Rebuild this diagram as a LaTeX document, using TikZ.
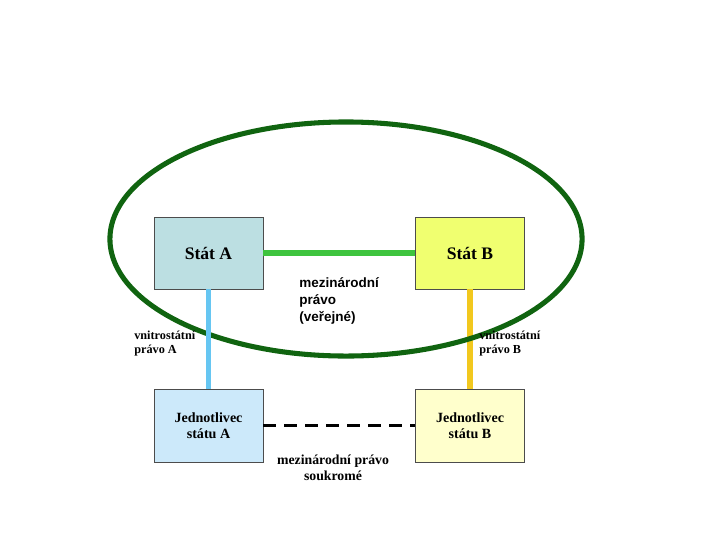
\documentclass[tikz,border=0pt]{standalone}
\usepackage{fontspec}
\usetikzlibrary{shapes.geometric}
\setmainfont{Liberation Serif}
\setsansfont{Liberation Sans}
\definecolor{ovalgreen}{RGB}{16,100,16}
\definecolor{linkgreen}{RGB}{62,196,62}
\definecolor{linkblue}{RGB}{102,198,242}
\definecolor{linkyellow}{RGB}{242,200,30}
\definecolor{stateA}{RGB}{188,223,226}
\definecolor{stateB}{RGB}{240,255,112}
\definecolor{personA}{RGB}{204,233,250}
\definecolor{personB}{RGB}{255,255,204}
\begin{document}
\begin{tikzpicture}[x=0.025cm, y=-0.025cm]
    \tikzset{state/.style={rectangle, draw=black!70, line width=0.5pt,
        minimum width=2.725cm, minimum height=1.8cm, font=\bfseries\fontsize{12.5}{14}\selectfont}}
    \tikzset{person/.style={rectangle, draw=black!70, line width=0.5pt,
        minimum width=2.725cm, minimum height=1.825cm, align=center,
        font=\bfseries\fontsize{10}{11.5}\selectfont}}
    \tikzset{label/.style={inner sep=0pt, align=left, anchor=north west,
        font=\bfseries\fontsize{8.7}{10}\selectfont}}
    \tikzset{link/.style={line width=4.2pt}}

    \useasboundingbox (0,0) rectangle (720,540);

    \node (stata) [state, fill=stateA] at (208.5,253) {Stát A};
    \node (statb) [state, fill=stateB] at (470,253) {Stát B};
    \node (osoba) [person, fill=personA] at (208.5,425.5) {Jednotlivec\\státu A};
    \node (osobb) [person, fill=personB] at (470,425.5) {Jednotlivec\\státu B};

    \draw [link, linkyellow] (statb) -- (osobb);
    \node (oval) [draw=ovalgreen, line width=3.6pt, ellipse, minimum width=11.8cm,
        minimum height=5.85cm] at (346,239) {};
    \draw [link, linkblue] (stata) -- (osoba);
    \draw [link, linkgreen] (stata) -- (statb);
    \draw [line width=2.8pt, dash pattern=on 9.2pt off 5.7pt] (osoba) -- (osobb);

    \node (verejne) [label, font=\sffamily\bfseries\fontsize{9.6}{12.3}\selectfont]
        at (299,277) {mezinárodní\\právo\\(veřejné)};
    \node (vnitroa) [label] at (134,331) {vnitrostátní\\právo A};
    \node (vnitrob) [label] at (479,331) {vnitrostátní\\právo B};
    \node (soukrome) [label, align=center, anchor=north,
        font=\bfseries\fontsize{9.8}{11.3}\selectfont] at (333,455)
        {mezinárodní právo\\soukromé};
\end{tikzpicture}
\end{document}
